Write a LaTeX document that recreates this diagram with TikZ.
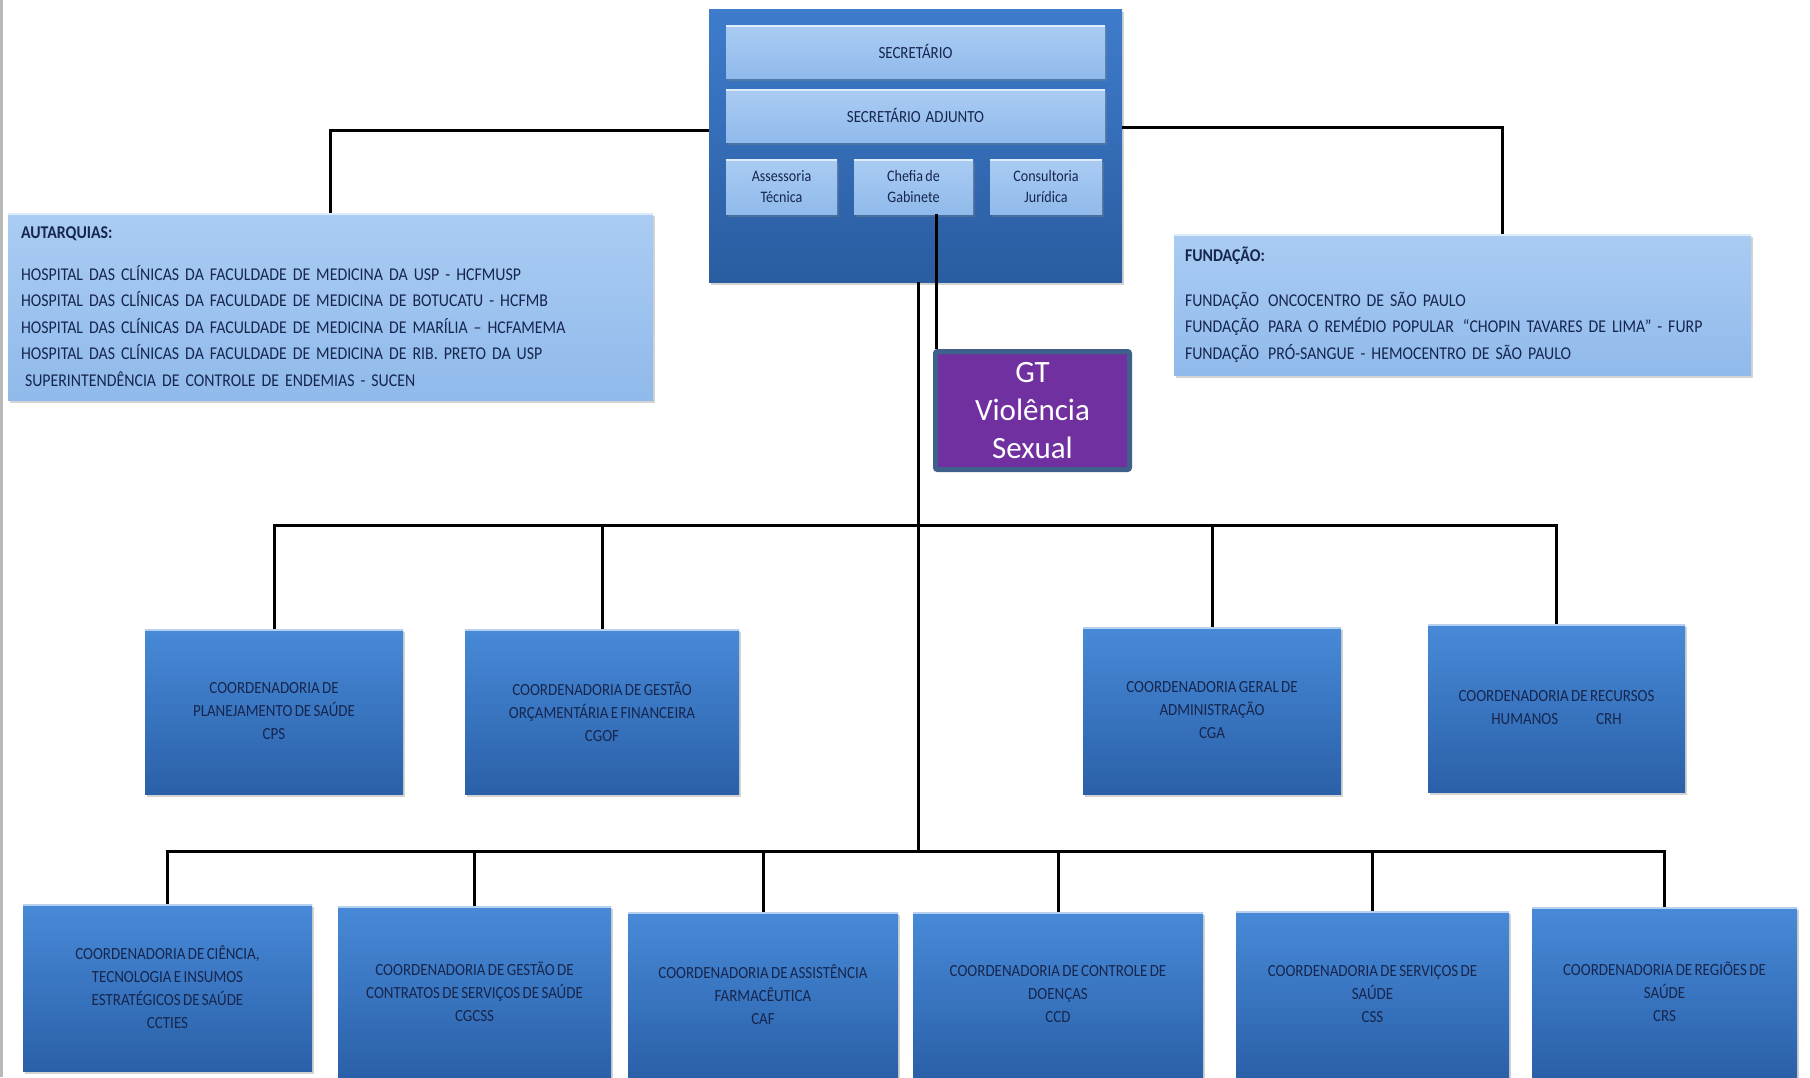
\documentclass[tikz,border=0pt]{standalone}
\usepackage{fontspec}
\setmainfont{Carlito}
\newfontfamily\slimfont[FakeStretch=0.88, WordSpace=0.7]{Carlito}
\usetikzlibrary{shadows}

\definecolor{navytext}{RGB}{22,38,78}
\definecolor{boxtop}{RGB}{72,138,216}
\definecolor{boxbot}{RGB}{42,96,168}
\definecolor{blocktop}{RGB}{62,124,204}
\definecolor{blockbot}{RGB}{42,92,160}
\definecolor{paletop}{RGB}{170,204,243}
\definecolor{palebot}{RGB}{144,186,235}
\definecolor{gtfill}{RGB}{112,48,160}
\definecolor{gtedge}{RGB}{64,96,140}

\tikzset{
  coordbox/.style={rectangle, inner sep=3pt, top color=boxtop, bottom color=boxbot,
    text=navytext, align=center, font=\slimfont\fontsize{8.5}{11.5}\selectfont,
    drop shadow={opacity=0.35, shadow xshift=1pt, shadow yshift=-1.5pt},
    path picture={\draw[boxtop!40!white, line width=1.5pt]
      (path picture bounding box.north west) -- (path picture bounding box.north east);}},
  palebox/.style={rectangle, top color=paletop, bottom color=palebot, text=navytext,
    drop shadow={opacity=0.35, shadow xshift=1pt, shadow yshift=-1.5pt},
    path picture={\draw[white!60!paletop, line width=1.5pt]
      (path picture bounding box.north west) -- (path picture bounding box.north east);}},
  barbox/.style={palebox, align=center, font=\slimfont\fontsize{8.5}{11}\selectfont},
  smallbox/.style={palebox, align=center, minimum height=27.5pt,
    font=\slimfont\fontsize{8}{10.5}\selectfont},
  listbox/.style={palebox, align=left, font=\slimfont\fontsize{9}{13.25}\selectfont},
  link/.style={line width=1.5pt, black}
}

\begin{document}
\begin{tikzpicture}[x=0.5pt, y=-0.5pt]
\useasboundingbox (0,0) rectangle (1810,1077);
\draw[gray!55, line width=1.5pt] (1.5,0) -- (1.5,1077);

\node[rectangle, top color=blocktop, bottom color=blockbot, minimum width=206.5pt, minimum height=136.5pt,
  drop shadow={opacity=0.35, shadow xshift=1pt, shadow yshift=-1.5pt}] (secblk) at (915.5,145.5) {};
\node[barbox, minimum width=189.5pt, minimum height=26.5pt] (sec) at (915.5,51.5) {SECRETÁRIO};
\node[barbox, minimum width=189.5pt, minimum height=26.5pt] (adj) at (915.5,115.5) {SECRETÁRIO\ \ ADJUNTO};
\node[smallbox, minimum width=55.5pt] (asst) at (781.5,186.5) {Assessoria\\Técnica};
\node[smallbox, minimum width=59.5pt] (chefia) at (913.5,186.5) {Chefia de\\Gabinete};
\node[smallbox, minimum width=56pt] (consult) at (1046,186.5) {Consultoria\\Jurídica};

\node[listbox, minimum width=322.5pt, minimum height=93.5pt, text width=309.5pt, inner sep=6.5pt] (autarq) at (330.5,306.5)
  {{\bfseries AUTARQUIAS:}\\[7.75pt]
   HOSPITAL DAS CLÍNICAS DA FACULDADE DE MEDICINA DA USP - HCFMUSP\\
   HOSPITAL DAS CLÍNICAS DA FACULDADE DE MEDICINA DE BOTUCATU - HCFMB\\
   HOSPITAL DAS CLÍNICAS DA FACULDADE DE MEDICINA DE MARÍLIA – HCFAMEMA\\
   HOSPITAL DAS CLÍNICAS DA FACULDADE DE MEDICINA DE RIB. PRETO DA USP\\
   \hspace{2pt}SUPERINTENDÊNCIA DE CONTROLE DE ENDEMIAS - SUCEN};
\node[listbox, minimum width=288.5pt, minimum height=70.5pt, text width=277.5pt, inner sep=5.5pt] (fund) at (1462.5,304.5)
  {{\bfseries FUNDAÇÃO:}\\[9.25pt]
   FUNDAÇÃO\enspace ONCOCENTRO DE SÃO PAULO\\
   FUNDAÇÃO\enspace PARA O REMÉDIO POPULAR\enspace “CHOPIN TAVARES DE LIMA” - FURP\\
   FUNDAÇÃO\enspace PRÓ-SANGUE - HEMOCENTRO DE SÃO PAULO};

\node[rectangle, fill=gtfill, draw=gtedge, line width=2.5pt, rounded corners=1pt, text=white, align=center,
  minimum width=97pt, minimum height=59pt, font=\fontsize{15.5}{19}\selectfont] (gt) at (1032.5,410.5)
  {GT\\Violência\\Sexual};

\node[coordbox, minimum width=129pt, minimum height=82.5pt] (cps) at (274,711.5)
  {COORDENADORIA DE\\PLANEJAMENTO DE SAÚDE\\CPS};
\node[coordbox, minimum width=137pt, minimum height=82.5pt] (cgof) at (602,711.5)
  {COORDENADORIA DE GESTÃO\\ORÇAMENTÁRIA E FINANCEIRA\\CGOF};
\node[coordbox, minimum width=129pt, minimum height=83.5pt] (cga) at (1212,710.5)
  {COORDENADORIA GERAL DE\\ADMINISTRAÇÃO\\CGA};
\node[coordbox, minimum width=128.5pt, minimum height=84pt] (crh) at (1556.5,708)
  {COORDENADORIA DE RECURSOS\\HUMANOS\hspace{19pt}CRH};

\node[coordbox, minimum width=144.5pt, minimum height=83.5pt] (ccties) at (167.5,987.5)
  {COORDENADORIA DE CIÊNCIA,\\TECNOLOGIA E INSUMOS\\ESTRATÉGICOS DE SAÚDE\\CCTIES};
\node[coordbox, minimum width=136.5pt, minimum height=85.5pt] (cgcss) at (474.5,991.5)
  {COORDENADORIA DE GESTÃO DE\\CONTRATOS DE SERVIÇOS DE SAÚDE\\CGCSS};
\node[coordbox, minimum width=135pt, minimum height=82.5pt] (caf) at (763,994.5)
  {COORDENADORIA DE ASSISTÊNCIA\\FARMACÊUTICA\\CAF};
\node[coordbox, minimum width=145pt, minimum height=82.5pt] (ccd) at (1058,994.5)
  {COORDENADORIA DE CONTROLE DE\\DOENÇAS\\CCD};
\node[coordbox, minimum width=136.5pt, minimum height=83pt] (css) at (1372.5,994)
  {COORDENADORIA DE SERVIÇOS DE\\SAÚDE\\CSS};
\node[coordbox, minimum width=132.5pt, minimum height=85pt] (crs) at (1664.5,992)
  {COORDENADORIA DE REGIÕES DE\\SAÚDE\\CRS};

\coordinate (bus1) at (918,525);
\coordinate (bus2) at (918,851);

\draw[link] ([yshift=7.75pt]secblk.west) -| (autarq.north);
\draw[link] ([yshift=9.25pt]secblk.east) -| ([xshift=19.75pt]fund.north);
\draw[link] ([xshift=11.25pt]chefia.south) -- ([xshift=11.25pt]chefia.south |- gt.north);
\draw[link] (secblk.south -| bus1) -- (bus2);

\draw[link] (cps.north) |- (bus1) -| (crh.north);
\foreach \n in {cgof,cga}
  \draw[link] (\n.north) -- (\n.north |- bus1);

\draw[link] (ccties.north) |- (bus2) -| (crs.north);
\foreach \n in {cgcss,caf,ccd,css}
  \draw[link] (\n.north) -- (\n.north |- bus2);
\end{tikzpicture}
\end{document}
